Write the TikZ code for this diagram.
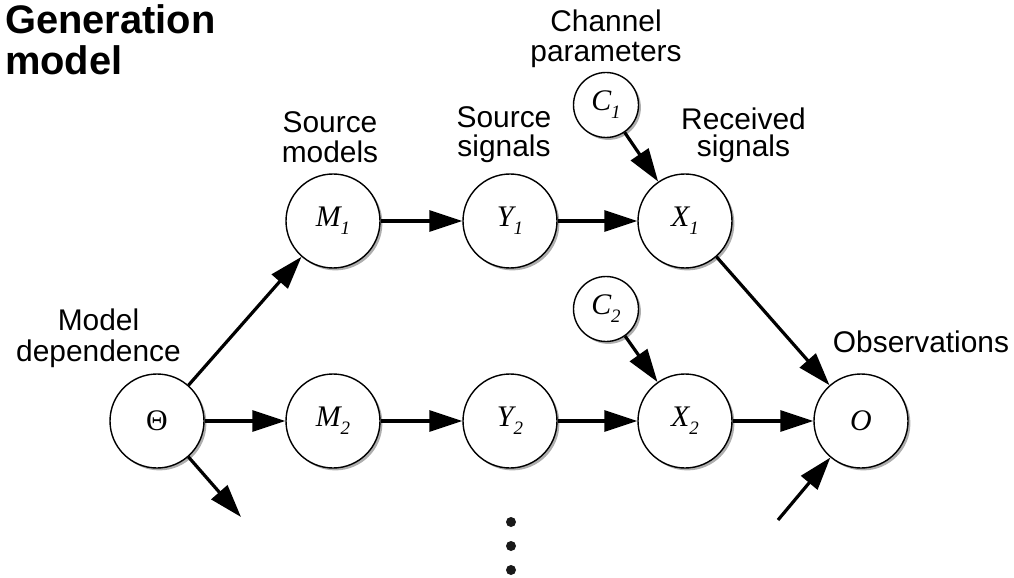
\documentclass[tikz,border=0pt]{standalone}
\usepackage{fontspec}
\setmainfont{Liberation Sans}
\newfontfamily\tmfont{Liberation Serif}
\usetikzlibrary{arrows.meta,shadows}
\newcommand\vlab[2]{{\tmfont\itshape #1\raisebox{-8bp}{\fontsize{19}{19}\selectfont #2}}}
\tikzset{
  var/.style={circle,draw,line width=1.4bp,fill=white,minimum size=94bp,inner sep=0pt,
    font=\fontsize{30}{30}\selectfont,
    drop shadow={shadow xshift=2.4bp,shadow yshift=-2.4bp,fill=black!45,opacity=.7}},
  smallvar/.style={var,minimum size=65bp},
  lab/.style={anchor=base,inner sep=0pt,font=\fontsize{30}{30}\selectfont},
  titlelab/.style={anchor=base west,inner sep=0pt,font=\fontsize{40}{40}\selectfont\bfseries},
  arr/.style={line width=3.2bp,-{Triangle[length=33bp,width=21bp]}},
  dotmark/.style={circle,fill=black!90,minimum size=10bp,inner sep=0pt}
}
\begin{document}
\begin{tikzpicture}[x=1bp,y=-1bp]
\useasboundingbox (0,0) rectangle (1014,578);
% title
\node[titlelab] (t1) at (5,34) {Generation};
\node[titlelab] (t2) at (5,75) {model};
% variables
\node[var] (Th) at (157,421) {\tmfont Θ};
\node[var] (M1) at (333,221) {\vlab{M}{1}};
\node[var] (Y1) at (510,221) {\vlab{Y}{1}};
\node[var] (X1) at (685,221) {\vlab{X}{1}};
\node[var] (M2) at (333,421) {\vlab{M}{2}};
\node[var] (Y2) at (510,421) {\vlab{Y}{2}};
\node[var] (X2) at (685,421) {\vlab{X}{2}};
\node[var] (O) at (861,421) {\tmfont\itshape O};
\node[smallvar] (C1) at (606,105) {\vlab{C}{1}};
\node[smallvar] (C2) at (606,309) {\vlab{C}{2}};
% labels
\node[lab] (l1a) at (98.5,330) {Model};
\node[lab] (l1b) at (98.5,361) {dependence};
\node[lab] (l2a) at (330,133) {Source};
\node[lab] (l2b) at (330,163) {models};
\node[lab] (l3a) at (504,128) {Source};
\node[lab] (l3b) at (504,157) {signals};
\node[lab] (l4a) at (606,32) {Channel};
\node[lab] (l4b) at (606,62) {parameters};
\node[lab] (l5a) at (743.5,130) {Received};
\node[lab] (l5b) at (743.5,157) {signals};
\node[lab] (l6) at (921,352) {Observations};
% free ends
\coordinate (thd) at (241,517);
\coordinate (oin) at (778,520);
% arrows
\draw[arr] (Th) -- (M1);
\draw[arr] (Th) -- (M2);
\draw[arr] (Th) -- (thd);
\draw[arr] (M1) -- (Y1);
\draw[arr] (Y1) -- (X1);
\draw[arr] (M2) -- (Y2);
\draw[arr] (Y2) -- (X2);
\draw[arr] (C1) -- (X1);
\draw[arr] (C2) -- (X2);
\draw[arr] (X1) -- (O);
\draw[arr] (X2) -- (O);
\draw[arr] (oin) -- (O);
% dots
\node[dotmark] (d1) at (511,522) {};
\node[dotmark] (d2) at (511,546) {};
\node[dotmark] (d3) at (511,570) {};
\end{tikzpicture}
\end{document}
